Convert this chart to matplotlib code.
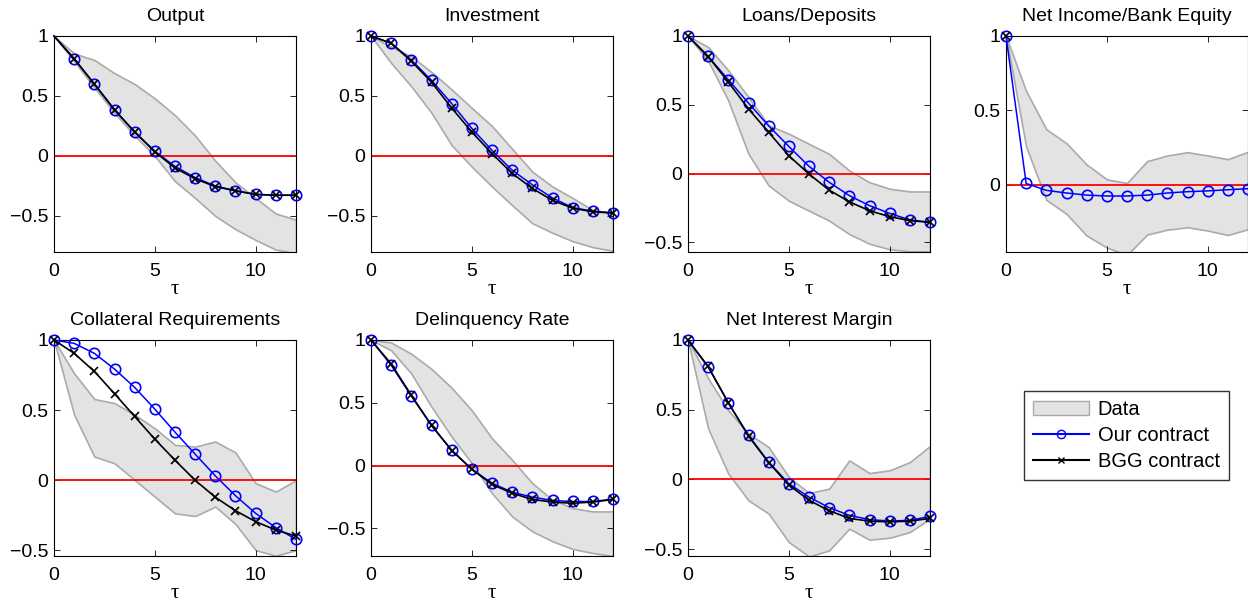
import matplotlib
matplotlib.use("Agg")
import matplotlib.pyplot as plt
import numpy as np
from matplotlib.patches import Patch
from matplotlib.lines import Line2D

plt.rcParams["font.family"] = ["Liberation Sans", "DejaVu Sans"]
plt.rcParams["font.size"] = 14

tau = np.arange(13)

titles = ["Output", "Investment", "Loans/Deposits", "Net Income/Bank Equity",
          "Collateral Requirements", "Delinquency Rate", "Net Interest Margin"]

# our contract (blue circles)
ours = [
    [1, 0.81, 0.60, 0.385, 0.20, 0.04, -0.087, -0.18, -0.25, -0.29, -0.32, -0.327, -0.327],
    [1, 0.94, 0.80, 0.63, 0.437, 0.23, 0.047, -0.118, -0.24, -0.35, -0.43, -0.46, -0.475],
    [1, 0.852, 0.682, 0.512, 0.347, 0.197, 0.053, -0.063, -0.16, -0.233, -0.289, -0.337, -0.354],
    [1, 0.01, -0.036, -0.054, -0.068, -0.074, -0.074, -0.068, -0.054, -0.045, -0.04, -0.032, -0.025],
    [1, 0.976, 0.905, 0.793, 0.662, 0.507, 0.343, 0.186, 0.031, -0.11, -0.236, -0.338, -0.421],
    [1, 0.80, 0.553, 0.32, 0.124, -0.029, -0.14, -0.212, -0.251, -0.278, -0.286, -0.286, -0.267],
    [1, 0.806, 0.548, 0.316, 0.124, -0.031, -0.127, -0.203, -0.258, -0.289, -0.299, -0.294, -0.266],
]

# BGG contract (black crosses)
nan = np.nan
bgg = [
    [1, 0.81, 0.60, 0.385, 0.20, 0.035, -0.10, -0.19, -0.255, -0.29, -0.32, -0.327, -0.327],
    [1, 0.94, 0.79, 0.615, 0.40, 0.20, 0.02, -0.145, -0.27, -0.37, -0.435, -0.465, -0.475],
    [1, 0.85, 0.665, 0.47, 0.30, 0.13, -0.003, -0.12, -0.205, -0.27, -0.313, -0.342, -0.354],
    [1, nan, nan, nan, nan, nan, nan, nan, nan, nan, nan, nan, nan],
    [1, 0.905, 0.776, 0.617, 0.455, 0.293, 0.143, 0.0, -0.121, -0.217, -0.295, -0.355, -0.398],
    [1, 0.81, 0.56, 0.32, 0.12, -0.03, -0.15, -0.22, -0.27, -0.29, -0.30, -0.29, -0.27],
    [1, 0.81, 0.55, 0.31, 0.12, -0.04, -0.15, -0.225, -0.28, -0.30, -0.305, -0.30, -0.28],
]

# data band
band_hi = [
    [1, 0.855, 0.80, 0.69, 0.60, 0.48, 0.34, 0.17, -0.04, -0.22, -0.35, -0.48, -0.53],
    [1, 0.91, 0.83, 0.70, 0.555, 0.40, 0.25, 0.06, -0.13, -0.255, -0.35, -0.45, -0.475],
    [1, 0.92, 0.75, 0.556, 0.35, 0.29, 0.216, 0.143, 0.022, -0.063, -0.11, -0.13, -0.13],
    [1, 0.63, 0.374, 0.28, 0.137, 0.038, 0.013, 0.16, 0.198, 0.22, 0.198, 0.173, 0.223],
    [1, 0.762, 0.579, 0.55, 0.467, 0.371, 0.252, 0.24, 0.276, 0.198, -0.021, -0.081, 0.0],
    [1, 0.98, 0.89, 0.77, 0.62, 0.44, 0.217, 0.045, -0.14, -0.272, -0.339, -0.365, -0.365],
    [1, 0.725, 0.495, 0.328, 0.232, 0.017, -0.098, -0.067, 0.136, 0.045, 0.065, 0.124, 0.239],
]
band_lo = [
    [1, 0.79, 0.57, 0.36, 0.17, 0.0, -0.21, -0.35, -0.50, -0.61, -0.70, -0.78, -0.81],
    [1, 0.775, 0.58, 0.36, 0.09, -0.09, -0.255, -0.41, -0.56, -0.64, -0.71, -0.76, -0.79],
    [1, 0.82, 0.53, 0.143, -0.087, -0.197, -0.27, -0.342, -0.44, -0.51, -0.55, -0.565, -0.565],
    [1, 0.257, -0.10, -0.194, -0.34, -0.42, -0.47, -0.333, -0.30, -0.284, -0.306, -0.336, -0.297],
    [1, 0.467, 0.169, 0.121, 0.002, -0.117, -0.236, -0.255, -0.188, -0.312, -0.498, -0.538, -0.498],
    [1, 0.918, 0.733, 0.468, 0.23, 0.019, -0.22, -0.405, -0.524, -0.603, -0.664, -0.696, -0.72],
    [1, 0.364, 0.041, -0.151, -0.246, -0.45, -0.553, -0.51, -0.354, -0.433, -0.419, -0.378, -0.282],
]

ylims = [(-0.8, 1), (-0.8, 1), (-0.57, 1), (-0.45, 1), (-0.54, 1), (-0.72, 1), (-0.55, 1)]

W, H = 1248, 606
fig = plt.figure(figsize=(W / 100, H / 100), dpi=100)

lefts = [54, 371, 688, 1006]
tops = [36, 340]
aw, ah = 242, 216

for i in range(7):
    r, c = divmod(i, 4)
    ax = fig.add_axes([lefts[c] / W, 1 - (tops[r] + ah) / H, aw / W, ah / H])
    ax.fill_between(tau, band_lo[i], band_hi[i], facecolor="#e3e3e3",
                    edgecolor="#aaaaaa", linewidth=1.2, zorder=1)
    ax.axhline(0, color="red", linewidth=1.3, zorder=2)
    mk = list(range(1, 13)) if i == 0 else None
    ax.plot(tau, ours[i], "-o", color="blue", markerfacecolor="none",
            markersize=7.5, markeredgewidth=1.2, linewidth=1.1, markevery=mk,
            clip_on=False, zorder=3)
    ax.plot(tau, bgg[i], "-x", color="black", markersize=6,
            markeredgewidth=1.2, linewidth=1.2, markevery=mk, clip_on=False, zorder=4)
    ax.set_xlim(0, 12)
    ax.set_ylim(*ylims[i])
    ax.set_xticks([0, 5, 10])
    ticks = [t for t in [-0.5, 0, 0.5, 1] if t >= ylims[i][0]]
    ax.set_yticks(ticks)
    ax.set_yticklabels([("%g" % t).replace("-", "\u2212") for t in ticks])
    ax.tick_params(direction="in", top=True, right=True, length=4, width=0.6,
                   labelsize=14)
    ax.tick_params(axis="x", pad=8)
    ax.tick_params(axis="y", pad=4)
    for s in ax.spines.values():
        s.set_linewidth(0.8)
    ax.set_title(titles[i], fontsize=14, pad=11)
    ax.set_xlabel("\u03c4", family=["Liberation Serif", "DejaVu Serif"],
                  fontsize=15, labelpad=0)

handles = [
    Patch(facecolor="#e3e3e3", edgecolor="#aaaaaa", label="Data"),
    Line2D([], [], color="blue", marker="o", markerfacecolor="none",
           markersize=6, label="Our contract"),
    Line2D([], [], color="black", marker="x", markersize=5, label="BGG contract"),
]
fig.legend(handles=handles, loc="upper left", bbox_to_anchor=(1024 / W, 1 - 391 / H),
           frameon=True, fancybox=False, edgecolor="black", fontsize=14.5,
           borderpad=0.45, labelspacing=0.35, handlelength=2.8, handletextpad=0.4,
           borderaxespad=0)

fig.savefig("out.png", dpi=100)
